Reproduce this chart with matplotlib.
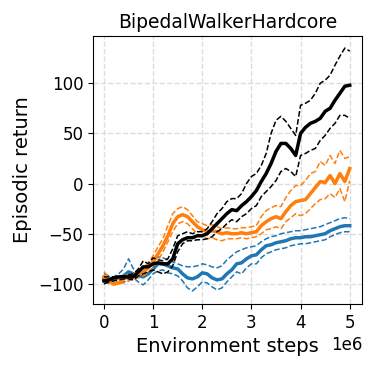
import numpy as np
import matplotlib
matplotlib.use('Agg')
import matplotlib.pyplot as plt

# %% data (every 0.1e6 steps)
steps = np.arange(51) * 1e5

blue_mean = [-95, -96, -95, -94, -92, -88, -90, -92, -93, -90,
             -85, -80, -80, -82, -84, -85, -90, -94, -95, -93,
             -89, -90, -94, -96, -95, -90, -86, -80, -79, -75,
             -72, -71, -66, -62, -61, -59, -58, -57, -55, -54,
             -54, -53, -53, -52, -51, -50, -47, -45, -43, -42, -42]
blue_hi = [-90, -92, -93, -90, -85, -75, -85, -88, -85, -80,
           -78, -73, -74, -76, -78, -80, -82, -83, -83, -82,
           -80, -81, -83, -84, -82, -76, -72, -68, -66, -64,
           -63, -62, -58, -55, -53, -52, -50, -49, -48, -47,
           -47, -46, -45, -44, -43, -41, -39, -37, -35, -34, -35]
blue_lo = [-98, -99, -99, -98, -98, -97, -94, -98, -101, -96,
           -90, -87, -86, -89, -90, -92, -97, -104, -107, -103,
           -98, -99, -103, -106, -104, -98, -93, -88, -90, -84,
           -80, -80, -74, -70, -68, -66, -65, -64, -62, -61,
           -60, -60, -59, -58, -57, -56, -53, -51, -49, -48, -48]

orange_mean = [-93, -97, -100, -99, -95, -93, -92, -90, -88, -84,
               -78, -70, -62, -52, -40, -33, -31, -33, -38, -43,
               -46, -48, -47, -48, -50, -49, -50, -50, -49, -50,
               -49, -48, -42, -38, -35, -33, -35, -28, -22, -18,
               -17, -16, -10, -4, 2, 1, 8, 0, 10, 2, 15]
orange_hi = [-88, -93, -96, -95, -92, -91, -90, -87, -84, -79,
             -72, -63, -55, -42, -30, -25, -23, -26, -32, -38,
             -40, -42, -41, -43, -45, -44, -45, -45, -44, -44,
             -43, -42, -33, -27, -24, -22, -23, -14, -7, -2,
             -2, 3, 10, 12, 22, 18, 28, 20, 33, 25, 27]
orange_lo = [-98, -100, -101, -100, -99, -97, -95, -94, -92, -89,
             -84, -77, -68, -58, -48, -40, -38, -40, -45, -50,
             -53, -55, -54, -56, -57, -55, -55, -55, -54, -55,
             -54, -53, -50, -46, -45, -43, -45, -38, -34, -30,
             -32, -30, -25, -20, -16, -15, -10, -14, -5, -18, 3]

black_mean = [-97, -96, -94, -93, -93, -93, -93, -88, -83, -83,
              -80, -79, -80, -80, -75, -60, -56, -54, -54, -52,
              -52, -50, -45, -40, -35, -30, -26, -27, -22, -18,
              -13, -7, 2, 10, 20, 32, 40, 40, 35, 28,
              50, 56, 60, 62, 65, 72, 75, 83, 90, 97, 98]
black_hi = [-93, -93, -93, -92, -92, -91, -90, -85, -77, -80,
            -74, -76, -77, -75, -65, -52, -50, -48, -50, -48,
            -48, -45, -38, -30, -25, -18, -15, -15, -10, 0,
            7, 10, 18, 30, 50, 63, 67, 62, 55, 48,
            78, 80, 83, 90, 100, 103, 108, 118, 127, 135, 132]
black_lo = [-100, -98, -97, -96, -95, -95, -96, -92, -90, -88,
            -86, -88, -90, -88, -82, -68, -60, -57, -57, -56,
            -56, -55, -53, -48, -45, -40, -36, -38, -33, -30,
            -25, -22, -13, -8, -3, 3, 12, 15, 12, 7,
            28, 30, 33, 35, 43, 48, 55, 60, 68, 68, 65]

series = [(blue_mean, blue_hi, blue_lo, 'tab:blue'),
          (orange_mean, orange_hi, orange_lo, 'tab:orange'),
          (black_mean, black_hi, black_lo, 'black')]

# %% plot
fig = plt.figure(figsize=(3.74, 3.68), dpi=100)
ax = fig.add_axes([0.249, 0.174, 0.719, 0.728])
for mean, hi, lo, c in series:
    ax.plot(steps, mean, color=c, lw=2.5)
    ax.plot(steps, hi, color=c, lw=1.1, ls='--')
    ax.plot(steps, lo, color=c, lw=1.1, ls='--')

ax.grid(True, ls='--', color='#dddddd', lw=1.0)
ax.set_axisbelow(True)
ax.set_xlim(-0.22e6, 5.25e6)
ax.set_ylim(-120, 147)
ax.set_xticks([0, 1e6, 2e6, 3e6, 4e6, 5e6])
ax.set_yticks([-100, -50, 0, 50, 100])
ax.tick_params(labelsize=12)
ax.xaxis.get_offset_text().set_fontsize(12)
ax.set_xlabel('Environment steps', fontsize=14)
ax.set_ylabel('Episodic return', fontsize=14)
ax.set_title('BipedalWalkerHardcore', fontsize=13.5)

fig.savefig('out.png', dpi=100)
plt.close()
